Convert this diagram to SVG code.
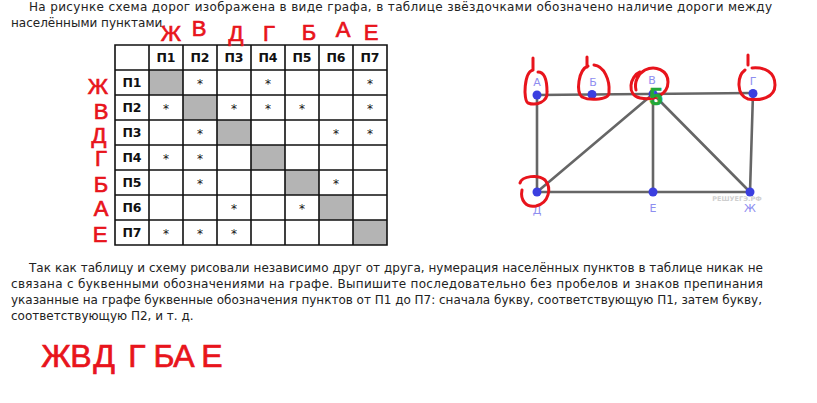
<svg xmlns="http://www.w3.org/2000/svg" width="817" height="403" viewBox="0 0 817 403">
<style>
.t{font-family:"DejaVu Sans",Verdana,sans-serif;font-size:12px;fill:#222}
.h{font-family:"DejaVu Sans",Verdana,sans-serif;font-size:12.5px;font-weight:bold;fill:#111;text-anchor:middle}
.s{font-family:"DejaVu Sans",Verdana,sans-serif;font-size:12px;fill:#111;text-anchor:middle}
.r{font-family:"Liberation Sans",Arial,sans-serif;fill:#e8141c;stroke:#e8141c;stroke-width:0.7;text-anchor:middle}
.g{stroke:#111;stroke-width:1.6;fill:none}
.e{stroke:#666;stroke-width:2.6;stroke-linecap:round}
.n{fill:#3b3fe0}
.nl{font-family:"DejaVu Sans",Verdana,sans-serif;font-size:11px;fill:#8e8ef0;text-anchor:middle}
.rc{fill:none;stroke:#e8141c;stroke-width:3;stroke-linecap:round;stroke-linejoin:round}
.five{font-family:"Liberation Sans",Arial,sans-serif;font-size:24px;font-weight:bold;fill:#22a838;stroke:#22a838;stroke-width:0.6;text-anchor:middle}
</style>
<rect width="817" height="403" fill="#fff"/>

<g id="para1">
<text class="t" x="29" y="11" textLength="743" lengthAdjust="spacing">На рисунке схема дорог изображена в виде графа, в таблице звёздочками обозначено наличие дороги между</text>
<text class="t" x="11" y="27">населёнными пунктами.</text>
</g>

<g id="table">
<rect x="149" y="70" width="34" height="25" fill="#b4b4b4"/>
<rect x="183" y="95" width="34" height="25" fill="#b4b4b4"/>
<rect x="217" y="120" width="34" height="25" fill="#b4b4b4"/>
<rect x="251" y="145" width="34" height="25" fill="#b4b4b4"/>
<rect x="285" y="170" width="34" height="25" fill="#b4b4b4"/>
<rect x="319" y="195" width="34" height="25" fill="#b4b4b4"/>
<rect x="353" y="220" width="34" height="25" fill="#b4b4b4"/>
<path class="g" d="M115,45H387V245H115Z M149,45V245 M183,45V245 M217,45V245 M251,45V245 M285,45V245 M319,45V245 M353,45V245 M115,70H387 M115,95H387 M115,120H387 M115,145H387 M115,170H387 M115,195H387 M115,220H387"/>
<text class="h" x="166" y="62">П1</text><text class="h" x="200" y="62">П2</text><text class="h" x="234" y="62">П3</text><text class="h" x="268" y="62">П4</text><text class="h" x="302" y="62">П5</text><text class="h" x="336" y="62">П6</text><text class="h" x="370" y="62">П7</text>
<text class="h" x="132" y="87">П1</text><text class="h" x="132" y="112">П2</text><text class="h" x="132" y="137">П3</text><text class="h" x="132" y="162">П4</text><text class="h" x="132" y="187">П5</text><text class="h" x="132" y="212">П6</text><text class="h" x="132" y="237">П7</text>
<text class="s" x="200" y="88">*</text><text class="s" x="268" y="88">*</text><text class="s" x="370" y="88">*</text>
<text class="s" x="166" y="113">*</text><text class="s" x="234" y="113">*</text><text class="s" x="268" y="113">*</text><text class="s" x="302" y="113">*</text><text class="s" x="370" y="113">*</text>
<text class="s" x="200" y="138">*</text><text class="s" x="336" y="138">*</text><text class="s" x="370" y="138">*</text>
<text class="s" x="166" y="163">*</text><text class="s" x="200" y="163">*</text>
<text class="s" x="200" y="188">*</text><text class="s" x="336" y="188">*</text>
<text class="s" x="234" y="213">*</text><text class="s" x="302" y="213">*</text>
<text class="s" x="166" y="238">*</text><text class="s" x="200" y="238">*</text><text class="s" x="234" y="238">*</text>
</g>

<g id="red-top" class="r" font-size="22">
<text x="171" y="41">Ж</text><text x="199" y="36">В</text><text x="236" y="41">Д</text><text x="269" y="41">Г</text><text x="309" y="40">Б</text><text x="343" y="37">А</text><text x="371" y="40">Е</text>
</g>
<g id="red-left" class="r" font-size="22">
<text x="98" y="94">Ж</text><text x="101" y="119">В</text><text x="99" y="143">Д</text><text x="101" y="166">Г</text><text x="101" y="192">Б</text><text x="101" y="216">А</text><text x="100" y="242">Е</text>
</g>

<g id="connectors">
<line class="e" x1="537" y1="95" x2="753" y2="93"/>
<line class="e" x1="537" y1="95" x2="537" y2="192"/>
<line class="e" x1="537" y1="192" x2="750" y2="192"/>
<line class="e" x1="537" y1="192" x2="653" y2="94"/>
<line class="e" x1="653" y1="94" x2="653" y2="192"/>
<line class="e" x1="653" y1="94" x2="750" y2="192"/>
<line class="e" x1="753" y1="93" x2="750" y2="192"/>
</g>

<g id="node-A"><circle class="n" cx="537" cy="95" r="4.5"/><text class="nl" x="537" y="86">А</text></g>
<g id="node-B"><circle class="n" cx="592" cy="94.5" r="4.5"/><text class="nl" x="593" y="86">Б</text></g>
<g id="node-V"><circle class="n" cx="653" cy="94" r="4.5"/><text class="nl" x="652" y="84">В</text></g>
<g id="node-G"><circle class="n" cx="753" cy="93.5" r="4.5"/><text class="nl" x="753" y="85">Г</text></g>
<g id="node-D"><circle class="n" cx="537" cy="192" r="4.5"/><text class="nl" x="537" y="214">Д</text></g>
<g id="node-E"><circle class="n" cx="653" cy="192" r="4.5"/><text class="nl" x="653" y="212">Е</text></g>
<g id="node-Zh"><circle class="n" cx="750" cy="192" r="4.5"/><text class="nl" x="750" y="212">Ж</text></g>
<text x="737" y="201" font-family="DejaVu Sans,sans-serif" font-size="6.5" font-weight="bold" fill="#cfcfcf" text-anchor="middle">РЕШУЕГЭ.РФ</text>

<g id="red-marks">
<path class="rc" d="M533,58 L533,70 M533,70 C524,72 523,100 528,103 C536,106 548,102 547,92 C547,80 545,72 538,72"/>
<path class="rc" d="M587,57 L587,67 M588,66 C578,70 576,92 582,97 C590,101 610,100 609,92 C610,80 604,66 594,65"/>
<path class="rc" d="M640,72 C630,76 626,95 640,98 C655,101 668,94 668,82 C668,70 655,65 645,70 C638,74 634,82 636,90"/>
<path class="rc" d="M748,55 L748,65 M745,70 C737,76 736,95 748,99 C760,101 775,98 775,85 C775,72 765,67 752,68"/>
<path class="rc" d="M520,183 C522,176 538,174 545,180 C552,188 549,203 536,206 C526,208 520,200 522,190"/>
<text class="five" x="656" y="105">5</text>
</g>

<g id="para2">
<text class="t" x="29" y="272" textLength="734" lengthAdjust="spacing">Так как таблицу и схему рисовали независимо друг от друга, нумерация населённых пунктов в таблице никак не</text>
<text class="t" x="11" y="288" textLength="752" lengthAdjust="spacing">связана с буквенными обозначениями на графе. Выпишите последовательно без пробелов и знаков препинания</text>
<text class="t" x="11" y="304" textLength="751" lengthAdjust="spacing">указанные на графе буквенные обозначения пунктов от П1 до П7: сначала букву, соответствующую П1, затем букву,</text>
<text class="t" x="11" y="320">соответствующую П2, и т. д.</text>
</g>

<g id="red-answer" class="r" font-size="32">
<text x="56" y="367">Ж</text><text x="81" y="367">В</text><text x="104" y="367">Д</text><text x="137" y="367">Г</text><text x="164" y="367">Б</text><text x="184" y="367">А</text><text x="212" y="367">Е</text>
</g>
</svg>
